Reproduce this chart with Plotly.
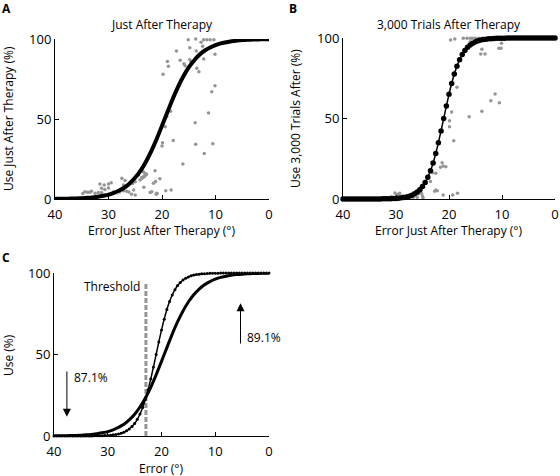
import plotly.graph_objects as go

# ---------------- data ----------------
tick_x = [40, 30, 20, 10, 0]
tick_y = [0, 50, 100]

# fitted curve, panel A (just after therapy), sampled at 1 degree steps from 40 to 0
curve_a_x = [40 - i for i in range(41)]
curve_a_y = [0.09, 0.13, 0.19, 0.26, 0.36, 0.51, 0.72, 1.0, 1.4, 2.0,
             2.7, 3.8, 5.3, 7.2, 9.9, 13.4, 17.8, 23.3, 29.9, 37.5,
             45.8, 54.2, 62.5, 70.1, 76.7, 82.2, 86.6, 90.1, 92.8, 94.7,
             96.2, 97.3, 98.0, 98.6, 99.0, 99.3, 99.5, 99.64, 99.74, 99.8, 99.87]

# fitted curve, panel B (3,000 trials after), sampled at 0.5 degree steps from 40 to 0
curve_b_x = [40 - 0.5 * i for i in range(81)]
curve_b_y = [0.0, 0.0, 0.0, 0.0, 0.0, 0.0, 0.0, 0.01, 0.01, 0.01,
             0.02, 0.02, 0.03, 0.04, 0.06, 0.08, 0.11, 0.15, 0.2, 0.28,
             0.38, 0.51, 0.70, 0.95, 1.29, 1.75, 2.36, 3.2, 4.3, 5.8,
             7.7, 10.2, 13.5, 17.5, 22.4, 28.3, 35.0, 42.3, 50.0, 57.7,
             65.0, 71.7, 77.6, 82.5, 86.5, 89.8, 92.3, 94.2, 95.7, 96.8,
             97.6, 98.3, 98.7, 99.05, 99.3, 99.5, 99.6, 99.7, 99.8, 99.85,
             99.9, 99.92, 99.94, 99.96, 99.97, 99.98, 99.98, 99.99, 99.99, 99.99,
             100, 100, 100, 100, 100, 100, 100, 100, 100, 100,
             100]

# individual subjects, panel A (error, use %)
subjects_a = [(15.1, 99.6), (13.7, 100), (12.2, 99.5), (11.6, 99.5), (11.0, 99.5), (10.3, 99.5),
              (12.7, 98), (17.3, 92.5), (14.8, 94.6), (13.6, 92.5), (12.4, 95.4), (19.0, 86),
              (18.8, 83), (19.8, 78), (16.6, 86.7), (15.9, 84.6), (15.7, 83.3), (14.8, 87),
              (14.6, 86), (13.5, 81.7), (13.1, 79.6), (12.2, 87.5), (10.1, 90.4), (10.1, 70.8),
              (10.7, 67), (18.4, 54.8), (11.3, 53.7), (19.1, 51.5), (19.4, 45.2), (13.8, 47.7),
              (19.9, 35.2), (20.0, 33.1), (17.9, 36.5), (13.7, 34.2), (10.5, 34.6), (12.1, 28.5),
              (16.1, 21.9), (21.3, 17.7), (23.2, 16), (23.0, 15), (23.4, 14), (22.9, 15.5),
              (23.8, 13.5), (20.4, 12.7), (21.2, 11), (23.4, 7.3), (22.2, 4), (21.1, 3),
              (20.9, 3.5), (19.3, 5.2), (18.3, 5.6), (34.4, 4.6), (33.9, 4.2), (33.5, 4.2),
              (31.6, 9.4), (30.8, 8.8), (30.0, 9.4), (29.5, 10.2), (31.3, 6.7), (30.7, 6),
              (30.0, 6.9), (32.5, 3.6), (31.9, 4), (31.3, 4), (29.1, 4.4), (28.5, 3.9),
              (27.9, 4.4), (27.2, 5.2), (26.6, 4.8), (26.2, 4.4), (27.5, 12.9), (26.9, 11.5),
              (27.2, 8.8), (25.5, 9.7), (25.0, 10.8), (25.3, 5.6), (25.7, 2.9), (25.0, 2.5),
              (24.1, 11.9), (23.7, 12.9), (23.3, 13.9), (23.1, 16), (23.5, 17), (24.4, 15),
              (21.6, 9.8), (21.9, 4.6), (21.0, 3.6), (34.8, 3.5), (33.2, 4.8)]

# individual subjects, panel B (error just after therapy, use % 3,000 trials after)
subjects_b = [(19.7, 98.7), (18.9, 99.4), (17.3, 99.9), (16.6, 99.9), (16.0, 99.9), (15.6, 99.9),
              (15.0, 99.9), (14.4, 99.9), (13.7, 99.9), (16.0, 97.7), (15.1, 97.7), (14.3, 98.8),
              (13.8, 93), (14.0, 90), (13.2, 90), (10.6, 93.6), (10.2, 93.6), (10.1, 96.7),
              (11.3, 65.2), (12.1, 61), (10.5, 59.8), (13.8, 54.5), (16.2, 51.1), (18.5, 69.4),
              (19.5, 54), (19.9, 48.6), (19.9, 44.9), (19.1, 36.2), (21.3, 22.5), (21.1, 20.5),
              (20.6, 20), (21.6, 19.7), (22.5, 16), (23.1, 16.3), (23.5, 10.8), (22.5, 5.6),
              (22.2, 5.2), (22.7, 4.8), (21.1, 2.5), (19.3, 2.5), (18.4, 3.5), (30.9, 1.4),
              (29.9, 2.5), (29.3, 3.5), (28.7, 1.9), (27.4, 1.4), (26.8, 1.0), (26.5, 2.5),
              (26.0, 1.0), (25.8, 3.1), (25.5, 4.5), (25.2, 3.5), (25.0, 1.9), (24.9, 0.8),
              (25.3, 5.6), (30.2, 3.8), (29.6, 3.0), (32.0, 0.8), (33.5, 0.5), (28.0, 0.8)]

threshold_error = 22.9
threshold_top = 94
arrow_down = (37.6, 40.5, 11.8)   # x, start y, tip y
arrow_up = (5.3, 55.8, 81.4)
label_down = "87.1%"
label_up = "89.1%"

FONT = "'Open Sans', sans-serif"
GRAY = "#959595"

fig = go.Figure()

# ---- panel A ----
fig.add_trace(go.Scatter(x=[p[0] for p in subjects_a], y=[p[1] for p in subjects_a], mode="markers",
                         marker=dict(color=GRAY, size=3.5), xaxis="x", yaxis="y", cliponaxis=False,
                         showlegend=False, hoverinfo="skip"))
fig.add_trace(go.Scatter(x=curve_a_x, y=curve_a_y, mode="lines", line=dict(color="black", width=4, shape="spline"),
                         xaxis="x", yaxis="y", cliponaxis=False, showlegend=False))

# ---- panel B ----
fig.add_trace(go.Scatter(x=[p[0] for p in subjects_b], y=[p[1] for p in subjects_b], mode="markers",
                         marker=dict(color=GRAY, size=3.5), xaxis="x2", yaxis="y2", cliponaxis=False,
                         showlegend=False, hoverinfo="skip"))
fig.add_trace(go.Scatter(x=curve_b_x, y=curve_b_y, mode="lines+markers",
                         line=dict(color="black", width=1.5, shape="spline"),
                         marker=dict(color="black", size=5.5),
                         xaxis="x2", yaxis="y2", cliponaxis=False, showlegend=False))

# ---- panel C ----
fig.add_trace(go.Scatter(x=[threshold_error, threshold_error], y=[0, threshold_top], mode="lines",
                         line=dict(color=GRAY, width=3, dash="5px,2px"), xaxis="x3", yaxis="y3",
                         showlegend=False, cliponaxis=False))
fig.add_trace(go.Scatter(x=curve_a_x, y=curve_a_y, mode="lines", line=dict(color="black", width=3, shape="spline"),
                         xaxis="x3", yaxis="y3", cliponaxis=False, showlegend=False))
fig.add_trace(go.Scatter(x=curve_b_x, y=curve_b_y, mode="lines+markers",
                         line=dict(color="black", width=1.5, shape="spline"),
                         marker=dict(color="black", size=3),
                         xaxis="x3", yaxis="y3", cliponaxis=False, showlegend=False))

W, H = 560, 476


def xd(a, b):
    return [a / W, b / W]


def yd(top, bottom):
    return [1 - bottom / H, 1 - top / H]


def xax(dom, anchor):
    return dict(domain=dom, anchor=anchor, range=[40, 0], tickvals=tick_x, ticks="inside", ticklen=4,
                tickcolor="black", showline=True, linecolor="black", linewidth=1, showgrid=False,
                zeroline=False, tickfont=dict(size=13, color="black", family=FONT), fixedrange=True,
                automargin=False, ticklabelstandoff=3)


def yax(dom, anchor):
    return dict(domain=dom, anchor=anchor, range=[0, 100], tickvals=tick_y, ticks="inside", ticklen=4,
                tickcolor="black", showline=True, linecolor="black", linewidth=1, showgrid=False,
                zeroline=False, tickfont=dict(size=13, color="black", family=FONT), fixedrange=True,
                automargin=False)


ann = []


def text(x, y, s, size=12, xanchor="center", yanchor="middle", angle=0, bold=False, xref="paper", yref="paper"):
    ann.append(dict(x=x, y=y, xref=xref, yref=yref, text=("<b>%s</b>" % s) if bold else s, showarrow=False,
                    xanchor=xanchor, yanchor=yanchor, textangle=angle,
                    font=dict(size=size, color="black", family=FONT)))


def px(x, y):
    return x / W, 1 - y / H


# panel letters
text(*px(6, 8), "A", size=12, bold=True)
text(*px(293, 8), "B", size=12, bold=True)
text(*px(6, 257), "C", size=12, bold=True)
# titles
text(*px(162, 24), "Just After Therapy")
text(*px(449, 24), "3,000 Trials After Therapy")
# axis titles
text(*px(162, 230), "Error Just After Therapy (°)")
text(*px(449, 230), "Error Just After Therapy (°)")
text(*px(161, 468), "Error (°)")
text(*px(8, 119), "Use Just After Therapy (%)", angle=-90)
text(*px(295, 119), "Use 3,000 Trials After (%)", angle=-90)
text(*px(8, 355), "Use (%)", angle=-90)
# panel C labels
text(23.6, 91.6, "Threshold", xanchor="right", xref="x3", yref="y3")
text(36.7, 35.6, label_down, xanchor="left", xref="x3", yref="y3")
text(4.5, 60.5, label_up, xanchor="left", xref="x3", yref="y3")
# arrows
for (x, y0, y1) in (arrow_down, arrow_up):
    ann.append(dict(x=x, y=y1, ax=x, ay=y0, xref="x3", yref="y3", axref="x3", ayref="y3", text="",
                    showarrow=True, arrowhead=2, arrowsize=1.6, arrowwidth=1, arrowcolor="black"))

fig.update_layout(
    width=W, height=H, margin=dict(l=0, r=0, t=0, b=0, autoexpand=False),
    paper_bgcolor="white", plot_bgcolor="white",
    font=dict(family=FONT, color="black"),
    xaxis=xax(xd(55, 269), "y"), yaxis=yax(yd(39, 199), "x"),
    xaxis2=xax(xd(343, 555), "y2"), yaxis2=yax(yd(38, 199), "x2"),
    xaxis3=xax(xd(54, 269), "y3"), yaxis3=yax(yd(273, 436), "x3"),
    annotations=ann,
)

fig.write_html("out.html", config={"displayModeBar": False},
               post_script="document.body.style.margin='0';document.body.style.overflow='hidden';"
                           "document.documentElement.style.overflow='hidden';")
